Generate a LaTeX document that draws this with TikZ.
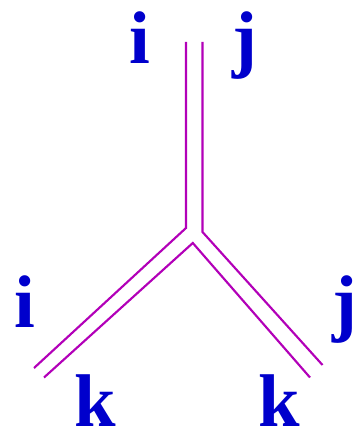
\documentclass[tikz,border=0pt]{standalone}
\usepackage{fontspec}
\setmainfont{Liberation Serif}
\usepackage{tikz}
\definecolor{linemag}{RGB}{178,0,184}
\definecolor{lblblue}{RGB}{0,0,204}
\tikzset{
  idx/.style={text=lblblue, font=\fontsize{56}{60}\selectfont\bfseries, inner sep=0pt, anchor=base},
  leg/.style={draw=linemag, line width=1.6pt, line join=miter}
}

\begin{document}
\begin{tikzpicture}[x=0.75pt, y=-0.75pt]
  \useasboundingbox (0,0) rectangle (356,431);
  % end points of the double legs
  \coordinate (topL) at (186,42);
  \coordinate (topR) at (202.5,42);
  \coordinate (kneeL) at (186,228);
  \coordinate (kneeR) at (202.5,232);
  \coordinate (apex) at (192.8,243);
  \coordinate (botLo) at (34,368);
  \coordinate (botLi) at (44,377.5);
  \coordinate (botRo) at (322.5,365);
  \coordinate (botRi) at (310,377.5);
  \draw[leg] (topL) -- (kneeL) -- (botLo);
  \draw[leg] (topR) -- (kneeR) -- (botRo);
  \draw[leg] (botLi) -- (apex) -- (botRi);
  % indices
  \node[idx] (iTop) at (140,64) {i};
  \node[idx] (jTop) at (245,64) {j};
  \node[idx] (iLeft) at (25,327) {i};
  \node[idx] (jRight) at (345,327) {j};
  \node[idx] (kLeft) at (95,426) {k};
  \node[idx] (kRight) at (279,426) {k};
\end{tikzpicture}
\end{document}
